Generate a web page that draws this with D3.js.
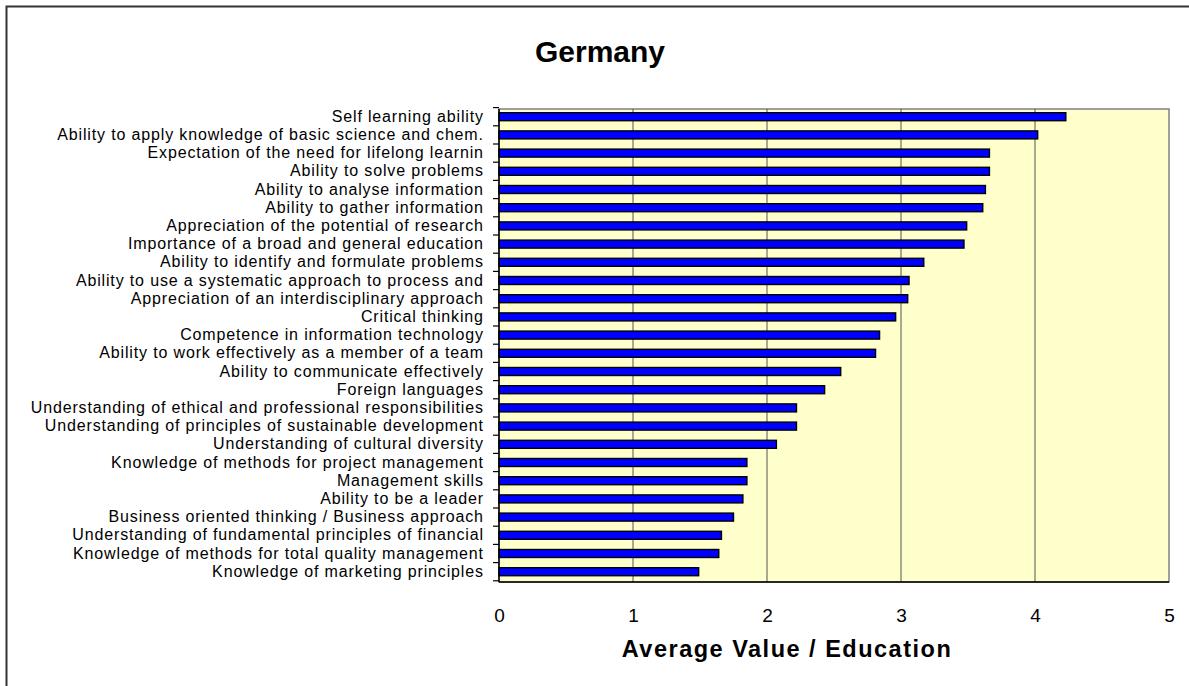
<!DOCTYPE html>
<html><head><meta charset="utf-8">
<script src="https://cdn.jsdelivr.net/npm/d3@7"></script>
<style>body{margin:0;background:#fff}svg{display:block;font-family:"Liberation Sans",Arial,sans-serif}</style>
</head><body>
<svg id="c" width="1189" height="686"></svg>
<script>
const title = "Germany";
const xTitle = "Average Value / Education";
const categories = [
 "Self learning ability",
 "Ability to apply knowledge of basic science and chem.",
 "Expectation of the need for lifelong learnin",
 "Ability to solve problems",
 "Ability to analyse information",
 "Ability to gather information",
 "Appreciation of the potential of research",
 "Importance of a broad and general education",
 "Ability to identify and formulate problems",
 "Ability to use a systematic approach to process and",
 "Appreciation of an interdisciplinary approach",
 "Critical thinking",
 "Competence in information technology",
 "Ability to work effectively as a member of a team",
 "Ability to communicate effectively",
 "Foreign languages",
 "Understanding of ethical and professional responsibilities",
 "Understanding of principles of sustainable development",
 "Understanding of cultural diversity",
 "Knowledge of methods for project management",
 "Management skills",
 "Ability to be a leader",
 "Business oriented thinking / Business approach",
 "Understanding of fundamental principles of financial",
 "Knowledge of methods for total quality management",
 "Knowledge of marketing principles"
];
const values = [4.23,4.02,3.66,3.66,3.63,3.61,3.49,3.47,3.17,3.06,3.05,2.96,2.84,2.81,2.55,2.43,2.22,2.22,2.07,1.85,1.85,1.82,1.75,1.66,1.64,1.49];
const xTicks = [0,1,2,3,4,5];

const svg = d3.select("#c");
svg.append("rect").attr("x",6.5).attr("y",6.5).attr("width",1300).attr("height",800)
  .attr("fill","#fff").attr("stroke","#333").attr("stroke-width",2);

const L=499, R=1169, T=109, B=582;
const x = d3.scaleLinear().domain([0,5]).range([L,R]);
const y = d3.scaleBand().domain(categories).range([107.6,580.8]).paddingInner(0).paddingOuter(0);

svg.append("rect").attr("x",L).attr("y",T).attr("width",R-L).attr("height",B-T)
  .attr("fill","#FFFFCC").attr("stroke","#808080").attr("stroke-width",1.5);

svg.append("g").selectAll("line").data(xTicks.slice(1,-1)).join("line")
  .attr("x1",d=>x(d)).attr("x2",d=>x(d)).attr("y1",T).attr("y2",B)
  .attr("stroke","#555").attr("stroke-width",1);

svg.append("g").selectAll("rect").data(values).join("rect")
  .attr("x",x(0)).attr("y",(d,i)=>y(categories[i])+y.bandwidth()/2-4)
  .attr("width",d=>x(d)-x(0)).attr("height",8)
  .attr("fill","#0000FF").attr("stroke","#000").attr("stroke-width",1.4);

const yAxis = d3.axisLeft(y).tickSize(0).tickPadding(16);
const gy = svg.append("g").attr("transform",`translate(${L},0)`).call(yAxis);
gy.select(".domain").remove();
gy.selectAll("text").attr("font-size",16).attr("letter-spacing","0.85px").attr("dx","0.85")
  .attr("fill","#000").attr("font-family","Liberation Sans, Arial, sans-serif");
const bounds = d3.range(categories.length+1).map(i=>y.range()[0]+i*y.step());
svg.append("g").selectAll("line").data(bounds).join("line")
  .attr("x1",L-6).attr("x2",L).attr("y1",d=>d).attr("y2",d=>d)
  .attr("stroke","#000").attr("stroke-width",1.2);
svg.append("line").attr("x1",L).attr("x2",L).attr("y1",T).attr("y2",B).attr("stroke","#000").attr("stroke-width",1.5);
svg.append("line").attr("x1",L).attr("x2",R).attr("y1",B).attr("y2",B).attr("stroke","#000").attr("stroke-width",1.5);

const xAxis = d3.axisBottom(x).tickValues(xTicks).tickSize(0).tickPadding(27).tickFormat(d3.format("d"));
const gx = svg.append("g").attr("transform",`translate(0,${B})`).call(xAxis);
gx.select(".domain").remove();
gx.selectAll("text").attr("font-size",19).attr("fill","#000").attr("font-family","Liberation Sans, Arial, sans-serif");

svg.append("text").attr("x",787).attr("y",657).attr("text-anchor","middle")
  .attr("font-size",23.5).attr("letter-spacing","1.5px").attr("font-weight","bold").text(xTitle);
svg.append("text").attr("x",600).attr("y",62).attr("text-anchor","middle")
  .attr("font-size",30).attr("font-weight","bold").text(title);
</script>
</body></html>
